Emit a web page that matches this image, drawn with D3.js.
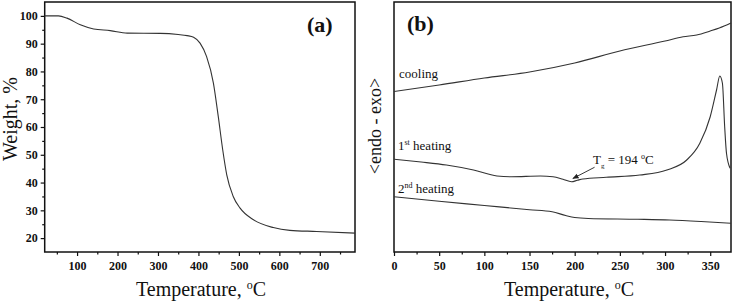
<!DOCTYPE html>
<html>
<head>
<meta charset="utf-8">
<script src="https://cdn.jsdelivr.net/npm/d3@7"></script>
<style>
  body { margin: 0; background: #fff; }
  text { font-family: "Liberation Serif", "Times New Roman", serif; fill: #111; }
</style>
</head>
<body>
<svg id="chart" width="734" height="303"></svg>
<script>
// (a) TGA
const tgaTemp   = [20, 54, 75, 108, 141, 182, 224, 306, 350, 372, 388, 404, 420, 437, 449, 460, 470, 486, 503, 536, 585, 626, 692, 787];
const tgaWeight = [100, 100, 99.2, 96.8, 95.3, 94.7, 93.8, 93.7, 93.3, 92.9, 92.3, 90.2, 85.4, 75.8, 63.8, 51.8, 42.8, 35, 30.8, 26.6, 23.8, 22.8, 22.4, 21.8];
const tgaXTicks = [100, 200, 300, 400, 500, 600, 700];
const tgaYTicks = [20, 30, 40, 50, 60, 70, 80, 90, 100];

// (b) DSC, arbitrary units
const coolTemp    = [0, 50, 100, 150, 200, 250, 300, 320, 335, 350, 360, 373];
const coolSignal  = [64.2, 66.8, 69.6, 72, 75.6, 80.4, 84.4, 86.1, 86.8, 88.4, 89.6, 91.6];
const heat1Temp   = [0, 30, 58, 88, 114, 130, 162, 176, 187, 196.5, 203, 209, 235, 272, 302, 324, 338.5, 350, 357, 360.6, 363.5, 366, 368, 372];
const heat1Signal = [37.1, 36, 34.8, 32.8, 30.4, 30.1, 30.4, 30.1, 29.1, 28.1, 28.7, 29.2, 29.9, 30.8, 32.8, 36.8, 43.5, 54.1, 64.8, 70.4, 67.5, 50.1, 39.5, 33.5];
const heat2Temp   = [0, 50, 100, 150, 175, 190, 200, 215, 270, 305, 340, 373];
const heat2Signal = [22.1, 20.3, 18.6, 16.9, 16.1, 14.6, 13.8, 13.4, 13.1, 12.8, 12.2, 11.5];
const dscXTicks = [0, 50, 100, 150, 200, 250, 300, 350];

const svg = d3.select("#chart");
const plotTop = 2, plotBottom = 252;

function panel(xDomain, xRange, yDomain, xMajor, xMinor, yMajor, yMinor) {
    const x = d3.scaleLinear().domain(xDomain).range(xRange);
    const y = d3.scaleLinear().domain(yDomain).range([plotBottom, plotTop]);
    const g = svg.append("g");

    g.append("g").attr("transform", `translate(0,${plotBottom})`)
        .call(d3.axisBottom(x).tickValues(xMajor).tickSize(4).tickPadding(5));
    g.append("g").attr("transform", `translate(0,${plotBottom})`)
        .call(d3.axisBottom(x).tickValues(xMinor).tickSize(2.5).tickFormat(""));
    if (yMajor) {
        g.append("g").attr("transform", `translate(${xRange[0]},0)`)
            .call(d3.axisLeft(y).tickValues(yMajor).tickSize(4).tickPadding(3));
        g.append("g").attr("transform", `translate(${xRange[0]},0)`)
            .call(d3.axisLeft(y).tickValues(yMinor).tickSize(2.5).tickFormat(""));
    }
    g.selectAll(".domain").remove();
    g.selectAll(".tick line").attr("stroke", "#111").attr("stroke-width", 1.2);
    g.selectAll(".tick text").style("font-size", "12px").style("font-weight", "bold")
        .style("font-family", "Liberation Serif").attr("fill", "#222");

    g.append("rect")
        .attr("x", xRange[0]).attr("y", plotTop)
        .attr("width", xRange[1] - xRange[0]).attr("height", plotBottom - plotTop)
        .attr("fill", "none").attr("stroke", "#111").attr("stroke-width", 1.5);
    return { g, x, y };
}

function curve(p, xs, ys) {
    const line = d3.line().x(d => p.x(d[0])).y(d => p.y(d[1])).curve(d3.curveMonotoneX);
    p.g.append("path")
        .datum(xs.map((t, i) => [t, ys[i]]))
        .attr("d", line)
        .attr("fill", "none").attr("stroke", "#333").attr("stroke-width", 1.1);
}

// panel a
const pa = panel([20, 787], [44.7, 355], [15, 105], tgaXTicks,
    d3.range(50, 760, 100), tgaYTicks, d3.range(25, 100, 10));
curve(pa, tgaTemp, tgaWeight);
pa.g.append("text").attr("x", 307).attr("y", 32)
    .style("font-size", "22px").style("font-weight", "bold").text("(a)");
const ta = pa.g.append("text").attr("x", 201).attr("y", 296).attr("text-anchor", "middle")
    .style("font-size", "20px").text("Temperature, ");
ta.append("tspan").attr("dy", -7).style("font-size", "12px").text("o");
ta.append("tspan").attr("dy", 7).text("C");
pa.g.append("text").attr("transform", "translate(17,119) rotate(-90)")
    .attr("text-anchor", "middle").style("font-size", "20px").text("Weight, %");

// panel b
const pb = panel([0, 373], [394, 731], [0, 100], dscXTicks, d3.range(25, 373, 50));
curve(pb, coolTemp, coolSignal);
curve(pb, heat1Temp, heat1Signal);
curve(pb, heat2Temp, heat2Signal);
pb.g.append("text").attr("x", 407).attr("y", 31)
    .style("font-size", "22px").style("font-weight", "bold").text("(b)");
const tb = pb.g.append("text").attr("x", 569).attr("y", 296).attr("text-anchor", "middle")
    .style("font-size", "20px").text("Temperature, ");
tb.append("tspan").attr("dy", -7).style("font-size", "12px").text("o");
tb.append("tspan").attr("dy", 7).text("C");
pb.g.append("text").attr("transform", "translate(381,126) rotate(-90)")
    .attr("text-anchor", "middle").style("font-size", "18px").text("<endo - exo>");

pb.g.append("text").attr("x", 399).attr("y", 78).style("font-size", "13px").text("cooling");
const h1 = pb.g.append("text").attr("x", 398).attr("y", 150).style("font-size", "13px").text("1");
h1.append("tspan").attr("dy", -5).style("font-size", "8px").text("st");
h1.append("tspan").attr("dy", 5).text(" heating");
const h2 = pb.g.append("text").attr("x", 398).attr("y", 192.5).style("font-size", "13px").text("2");
h2.append("tspan").attr("dy", -5).style("font-size", "8px").text("nd");
h2.append("tspan").attr("dy", 5).text(" heating");

// Tg annotation
const tg = pb.g.append("text").attr("x", 593).attr("y", 164).style("font-size", "13px").text("T");
tg.append("tspan").attr("dy", 4).style("font-size", "7px").text("g");
tg.append("tspan").attr("dy", -4).text(" = 194 ");
tg.append("tspan").attr("dy", -5).style("font-size", "8px").text("o");
tg.append("tspan").attr("dy", 5).text("C");

svg.append("defs").append("marker")
    .attr("id", "arr").attr("viewBox", "0 0 10 10").attr("refX", 9).attr("refY", 5)
    .attr("markerWidth", 7).attr("markerHeight", 7).attr("orient", "auto")
    .append("path").attr("d", "M0,1 L10,5 L0,9 Z").attr("fill", "#222");
pb.g.append("line")
    .attr("x1", pb.x(222)).attr("y1", pb.y(33.9))
    .attr("x2", pb.x(198)).attr("y2", pb.y(29.4))
    .attr("stroke", "#222").attr("stroke-width", 0.9).attr("marker-end", "url(#arr)");
</script>
</body>
</html>
